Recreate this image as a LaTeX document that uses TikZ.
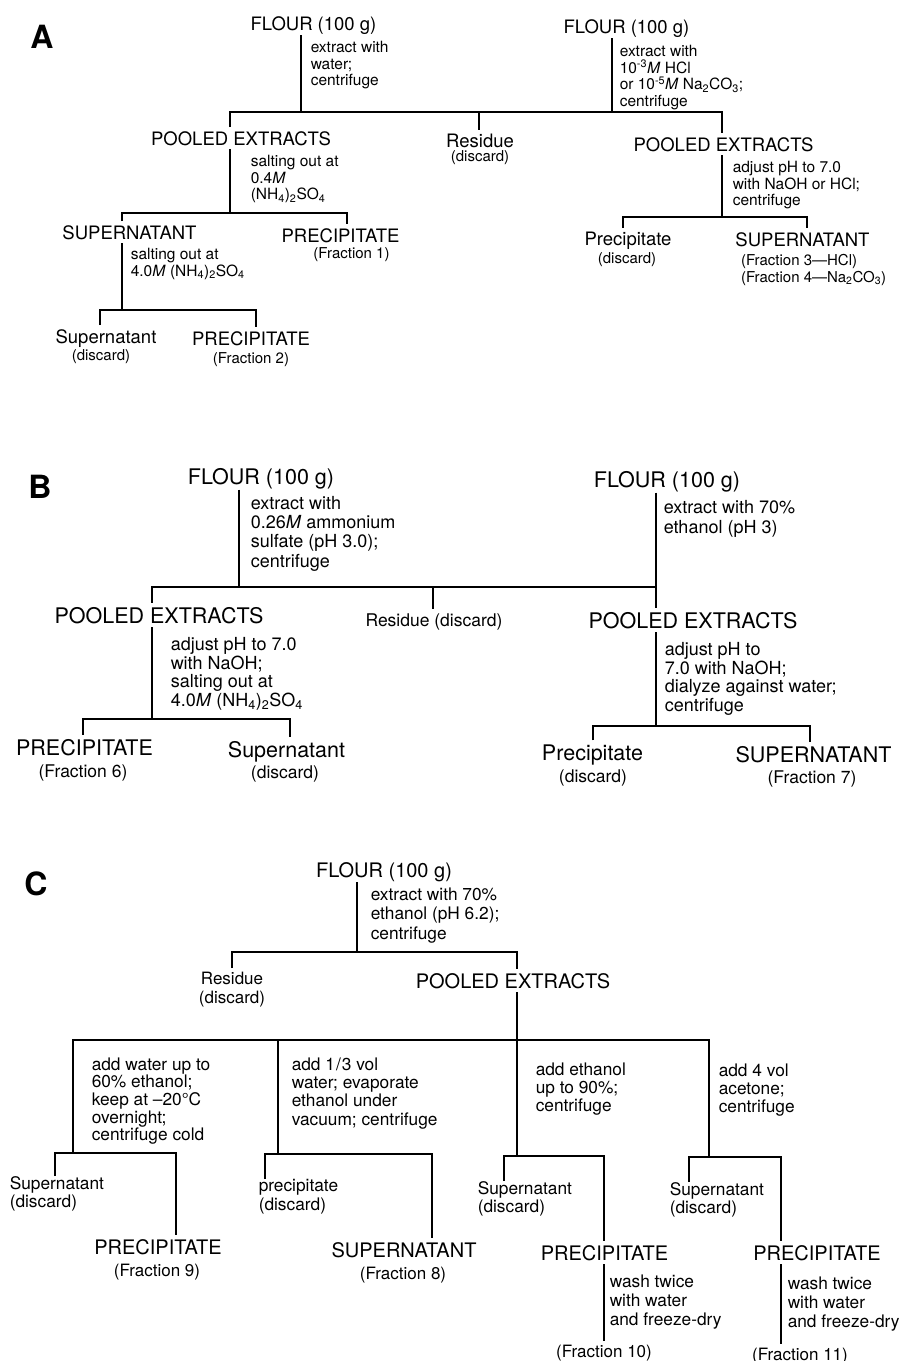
\documentclass[tikz,border=0pt]{standalone}
\usepackage{fontspec}
\setmainfont{TeX Gyre Heros}
\usetikzlibrary{positioning}

\newcommand{\Mol}{\textit{M}}
\newcommand{\ammsulf}{(NH\textsubscript{4})\textsubscript{2}SO\textsubscript{4}}

\begin{document}
\begin{tikzpicture}[x=1pt, y=-1pt, line width=1.5pt,
  panel/.style={inner sep=0pt, font=\fontsize{32}{32}\selectfont\bfseries},
  big/.style={inner sep=0pt, outer sep=4pt, anchor=base},
  sub/.style={inner sep=0pt, outer sep=4pt, anchor=base},
  note/.style={inner sep=0pt, anchor=north west, align=left},
  root/.style={big, outer sep=1pt}
]
  \useasboundingbox (0,0) rectangle (901,1361);

  % Panel A
  \begin{scope}[big/.append style={font=\fontsize{18.5}{20}\selectfont},
    sub/.append style={font=\fontsize{15}{16.5}\selectfont},
    note/.append style={font=\fontsize{15.5}{16.5}\selectfont}]
  \node[panel] (labA) at (42,37) {A};
  \node[root] (flourA1) at (313.5,30) {FLOUR (100 g)};
  \node[root] (flourA2) at (626.5,33) {FLOUR (100 g)};
  \node[note] (stepA1) at (310,40.5) {extract with\\water;\\centrifuge};
  \node[note] (stepA2) at (619,44.5) {extract with\\10\textsuperscript{-3}\Mol{} HCl\\or 10\textsuperscript{-5}\Mol{} Na\textsubscript{2}CO\textsubscript{3};\\centrifuge};

  \node[big] (poolA1) at (241,145) {POOLED EXTRACTS};
  \node[big] (resA) at (480,147) {Residue};
  \node[sub] (resA-d) at (480,161) {(discard)};
  \node[big] (poolA2) at (723.5,151) {POOLED EXTRACTS};
  \node[note] (stepA3) at (250,154.5) {salting out at\\0.4\Mol\\\ammsulf};
  \node[note] (stepA4) at (732,160.5) {adjust pH to 7.0\\with NaOH or HCl;\\centrifuge};

  \node[big] (supA1) at (129.5,239) {SUPERNATANT};
  \node[big] (precA1) at (340.5,242) {PRECIPITATE};
  \node[sub] (fracA1) at (351.5,258) {(Fraction 1)};
  \node[note] (stepA5) at (130,247.5) {salting out at\\4.0\Mol{} \ammsulf};
  \node[big] (supA2) at (106,343) {Supernatant};
  \node[sub] (supA2-d) at (101,360) {(discard)};
  \node[big] (precA2) at (251,345) {PRECIPITATE};
  \node[sub] (fracA2) at (251,363) {(Fraction 2)};

  \node[big] (precA3) at (628,245) {Precipitate};
  \node[sub] (precA3-d) at (627,263) {(discard)};
  \node[big] (supA3) at (802.5,246) {SUPERNATANT};
  \node[sub, anchor=base west] (fracA3) at (737,265) {(Fraction 3---HCl)};
  \node[sub, anchor=base west] (fracA4) at (737,282) {(Fraction 4---Na\textsubscript{2}CO\textsubscript{3})};
  \end{scope}

  % Panel A - connectors
  \coordinate (jA1) at (301,112);
  \coordinate (jA2) at (612,112);
  \coordinate (dA1) at (230,112);
  \coordinate (dA2) at (479,112);
  \coordinate (dA3) at (722,112);
  \draw (flourA1.south -| jA1) -- (jA1);
  \draw (flourA2.south -| jA2) -- (jA2);
  \draw (poolA1.north -| dA1) -- (dA1) -- (dA3) -- (poolA2.north -| dA3);
  \draw (dA2) -- (resA.north -| dA2);
  \coordinate (jA3) at (230,213);
  \coordinate (dA4) at (122,213);
  \coordinate (dA5) at (347,213);
  \draw (poolA1.south -| jA3) -- (jA3);
  \draw (supA1.north -| dA4) -- (dA4) -- (dA5) -- (precA1.north -| dA5);
  \coordinate (jA4) at (122,310);
  \coordinate (dA6) at (100,310);
  \coordinate (dA7) at (256,310);
  \draw (supA1.south -| jA4) -- (jA4);
  \draw (supA2.north -| dA6) -- (dA6) -- (dA7) -- (precA2.north -| dA7);
  \coordinate (jA5) at (722,217);
  \coordinate (dA8) at (623,217);
  \coordinate (dA9) at (807,217);
  \draw (poolA2.south -| jA5) -- (jA5);
  \draw (precA3.north -| dA8) -- (dA8) -- (dA9) -- (supA3.north -| dA9);

  % Panel B
  \begin{scope}[big/.append style={font=\fontsize{21.5}{23}\selectfont},
    sub/.append style={font=\fontsize{17.5}{19}\selectfont},
    note/.append style={font=\fontsize{18}{18.8}\selectfont}]
  \node[panel] (labB) at (40,487) {B};
  \node[root] (flourB1) at (261,484) {FLOUR (100 g)};
  \node[note, font=\fontsize{18}{19.3}\selectfont] (stepB1) at (250,495.5) {extract with\\0.26\Mol{} ammonium\\sulfate (pH 3.0);\\centrifuge};
  \node[root] (flourB2) at (667,487) {FLOUR (100 g)};
  \node[note, font=\fontsize{18}{20}\selectfont] (stepB2) at (663,499.5) {extract with 70\%\\ethanol (pH 3)};

  \node[big] (poolB1) at (159,623) {POOLED EXTRACTS};
  \node[sub] (resB) at (434,626) {Residue (discard)};
  \node[big] (poolB2) at (693,628) {POOLED EXTRACTS};
  \node[note] (stepB3) at (170,636.5) {adjust pH to 7.0\\with NaOH;\\salting out at\\4.0\Mol{} \ammsulf};
  \node[note] (stepB4) at (664,641.5) {adjust pH to\\7.0 with NaOH;\\dialyze against water;\\centrifuge};

  \node[big] (precB1) at (84.5,755) {PRECIPITATE};
  \node[sub] (fracB6) at (83,777) {(Fraction 6)};
  \node[big] (supB1) at (286.5,757) {Supernatant};
  \node[sub] (supB1-d) at (285,778) {(discard)};
  \node[big] (precB2) at (592.5,760) {Precipitate};
  \node[sub] (precB2-d) at (593,782) {(discard)};
  \node[big] (supB2) at (813.5,762) {SUPERNATANT};
  \node[sub] (fracB7) at (812,783) {(Fraction 7)};
  \end{scope}

  % Panel B - connectors
  \coordinate (jB1) at (239,587);
  \coordinate (dB1) at (152,587);
  \coordinate (dB2) at (433,587);
  \coordinate (dB3) at (656,587);
  \draw (flourB1.south -| jB1) -- (jB1);
  \draw (poolB1.north -| dB1) -- (dB1) -- (dB3);
  \draw (flourB2.south -| dB3) -- (poolB2.north -| dB3);
  \draw (dB2) -- (resB.north -| dB2);
  \coordinate (jB2) at (152,719);
  \coordinate (dB4) at (83,719);
  \coordinate (dB5) at (290,719);
  \draw (poolB1.south -| jB2) -- (jB2);
  \draw (precB1.north -| dB4) -- (dB4) -- (dB5) -- (supB1.north -| dB5);
  \coordinate (jB3) at (656,726);
  \coordinate (dB6) at (593,726);
  \coordinate (dB7) at (810,726);
  \draw (poolB2.south -| jB3) -- (jB3);
  \draw (precB2.north -| dB6) -- (dB6) -- (dB7) -- (supB2.north -| dB7);

  % Panel C
  \begin{scope}[big/.append style={font=\fontsize{20}{22}\selectfont},
    sub/.append style={font=\fontsize{17}{19}\selectfont},
    note/.append style={font=\fontsize{17.3}{18.3}\selectfont}]
  \node[panel] (labC) at (36,884) {C};
  \node[root] (flourC) at (384,877) {FLOUR (100 g)};
  \node[note, font=\fontsize{17.3}{19.5}\selectfont] (stepC1) at (370,887) {extract with 70\%\\ethanol (pH 6.2);\\centrifuge};
  \node[sub, align=center, anchor=north] (resC) at (232,968) {Residue\\(discard)};
  \node[big] (poolC) at (513,988) {POOLED EXTRACTS};

  % Level 2 - four treatments
  \node[note, font=\fontsize{17.3}{17.6}\selectfont] (stepC2) at (91,1057) {add water up to\\60\% ethanol;\\keep at \textendash20°C\\overnight;\\centrifuge cold};
  \node[note] (stepC3) at (291,1057) {add 1\kern1pt/\kern1pt3 vol\\water; evaporate\\ethanol under\\vacuum; centrifuge};
  \node[note] (stepC4) at (535,1062) {add ethanol\\up to 90\%;\\centrifuge};
  \node[note] (stepC5) at (718,1063) {add 4 vol\\acetone;\\centrifuge};

  % Level 3 - products
  \node[note] (supC1) at (9,1176) {Supernatant\\(discard)};
  \node[big] (precC1) at (158,1254) {PRECIPITATE};
  \node[sub] (fracC9) at (157,1276) {(Fraction 9)};
  \node[note] (precC2) at (258,1179) {precipitate\\(discard)};
  \node[big] (supC2) at (404,1257) {SUPERNATANT};
  \node[sub] (fracC8) at (403,1279) {(Fraction 8)};
  \node[note] (supC3) at (477,1181) {Supernatant\\(discard)};
  \node[big] (precC3) at (604.5,1260) {PRECIPITATE};
  \node[note, font=\fontsize{17.3}{19}\selectfont] (stepC6) at (609,1274) {wash twice\\with water\\and freeze-dry};
  \node[sub] (fracC10) at (604,1357) {(Fraction 10)};
  \node[note] (supC4) at (669,1182) {Supernatant\\(discard)};
  \node[big] (precC4) at (817,1260) {PRECIPITATE};
  \node[note, font=\fontsize{17.3}{19}\selectfont] (stepC7) at (787,1276) {wash twice\\with water\\and freeze-dry};
  \node[sub] (fracC11) at (800,1360) {(Fraction 11)};
  \end{scope}

  % Panel C - connectors
  \coordinate (jC1) at (357,952);
  \coordinate (dC1) at (232,952);
  \coordinate (dC2) at (517,952);
  \draw (flourC.south -| jC1) -- (jC1);
  \draw (resC.north -| dC1) -- (dC1) -- (dC2) -- (poolC.north -| dC2);
  \coordinate (jC2) at (517,1040);
  \coordinate (dC3) at (73,1040);
  \coordinate (dC4) at (278,1040);
  \coordinate (dC6) at (709,1040);
  \coordinate (jC3) at (73,1153);
  \coordinate (jC4) at (278,1154);
  \coordinate (jC5) at (517,1156);
  \coordinate (jC6) at (709,1157);
  \draw (poolC.south -| jC2) -- (jC2);
  \draw (jC3) -- (dC3) -- (dC6) -- (jC6);
  \draw (dC4) -- (jC4);
  \draw (jC2) -- (jC5);
  \coordinate (eC1) at (55,1153);
  \coordinate (eC2) at (176,1153);
  \coordinate (eC3) at (265,1154);
  \coordinate (eC4) at (432,1154);
  \coordinate (eC5) at (504,1156);
  \coordinate (eC6) at (604,1156);
  \coordinate (eC7) at (689,1157);
  \coordinate (eC8) at (781,1157);
  \draw (supC1.north -| eC1) -- (eC1) -- (eC2) -- (precC1.north -| eC2);
  \draw (precC2.north -| eC3) -- (eC3) -- (eC4) -- (supC2.north -| eC4);
  \draw (supC3.north -| eC5) -- (eC5) -- (eC6) -- (precC3.north -| eC6);
  \draw (supC4.north -| eC7) -- (eC7) -- (eC8) -- (precC4.north -| eC8);
  \draw (precC3.south -| eC6) -- (fracC10.north -| eC6);
  \draw (precC4.south -| eC8) -- (fracC11.north -| eC8);
\end{tikzpicture}
\end{document}
